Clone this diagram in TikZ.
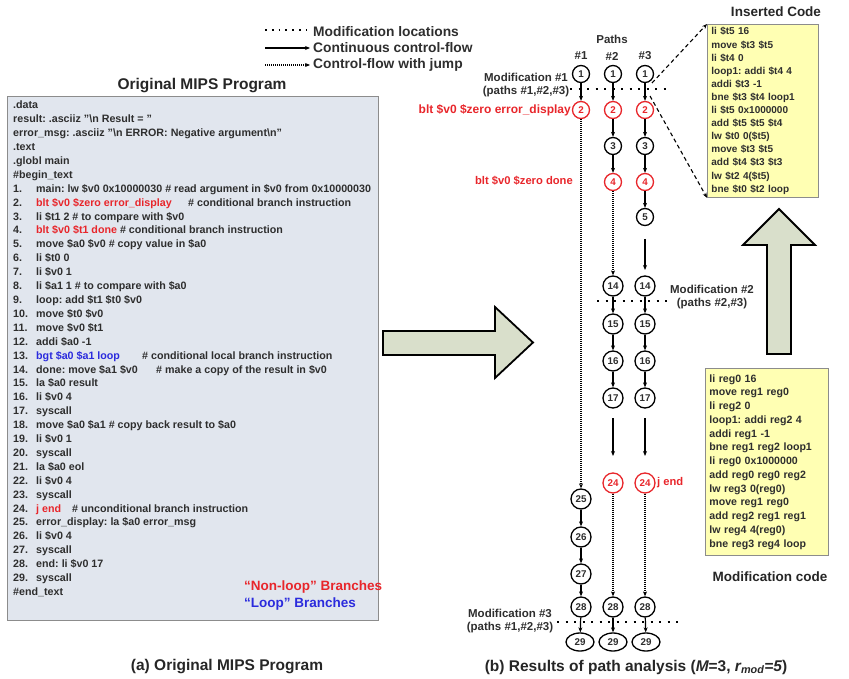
\documentclass[tikz,border=0pt]{standalone}
\usepackage{fontspec}
\setmainfont{Liberation Sans}
\usetikzlibrary{arrows.meta,shapes.geometric}
\frenchspacing
\definecolor{txt}{HTML}{2E2E2E}
\definecolor{myred}{HTML}{E8262B}
\definecolor{myblue}{HTML}{2B2BDD}
\definecolor{boxbg}{HTML}{E1E6EE}
\definecolor{boxln}{HTML}{8C8C8C}
\definecolor{yel}{HTML}{FFFFB3}
\definecolor{arrfill}{HTML}{D9DFCB}
\newcommand{\mipsline}[2]{%
  \node[prog] (n#1) at (13,{106+13.9*(#1+5)}) {#1.};
  \node[prog] (t#1) at (36,{106+13.9*(#1+5)}) {#2};}
\begin{document}
\begin{tikzpicture}[x=1pt,y=-1pt,
  prog/.style={anchor=west, font=\fontsize{10.7}{12}\selectfont\bfseries, text=txt, inner sep=0pt, text height=7.8pt, text depth=2pt},
  lbl/.style={font=\fontsize{11.5}{13.5}\selectfont\bfseries, text=txt, inner sep=0pt, align=center},
  redlbl/.style={font=\fontsize{11.2}{13}\selectfont\bfseries, text=myred, inner sep=0pt},
  legtxt/.style={anchor=west, font=\fontsize{13.8}{15}\selectfont\bfseries, text=txt, inner sep=0pt},
  nd/.style={circle, draw=black, line width=1.3pt, fill=white, minimum size=17pt, inner sep=0pt, font=\fontsize{9.8}{10}\selectfont\bfseries, text=txt},
  ndd/.style={nd, minimum size=20pt},
  ell/.style={nd, ellipse, minimum width=28pt, minimum height=18pt},
  rednd/.style={draw=myred, text=myred},
  flow/.style={-{Stealth[length=5pt,width=4pt]}, line width=1.2pt},
  jump/.style={-{Stealth[length=5pt,width=4pt]}, line width=1.1pt, dash pattern=on 1pt off 1pt},
  modline/.style={line width=2pt, dash pattern=on 2pt off 6.5pt},
  codebox/.style={draw=boxln, fill=yel, line width=0.8pt, align=left, inner xsep=4pt, inner ysep=0pt, text=txt},
  blockarrow/.style={draw=black, line width=1.8pt, fill=arrfill, line join=miter},
  bigtitle/.style={font=\fontsize{15.5}{18}\selectfont\bfseries, text=black!85}
]
\useasboundingbox (0,0) rectangle (849,679);

% ---------------- Legend ----------------
\coordinate (lg0s) at (265,30); \coordinate (lg0e) at (307,30);
\coordinate (lg1s) at (265,48); \coordinate (lg1e) at (310,48);
\coordinate (lg2s) at (265,65); \coordinate (lg2e) at (310,65);
\draw[line width=1.8pt, dash pattern=on 1.8pt off 5pt] (lg0s) -- (lg0e);
\draw[flow] (lg1s) -- (lg1e);
\draw[jump] (lg2s) -- (lg2e);
\node[legtxt] (lgt0) at (313,32) {Modification locations};
\node[legtxt] (lgt1) at (313,48) {Continuous control-flow};
\node[legtxt] (lgt2) at (313,65) {Control-flow with jump};

% ---------------- Left program box ----------------
\node[bigtitle] (progtitle) at (202,86) {Original MIPS Program};
\node[draw=boxln, fill=boxbg, line width=1pt, anchor=north west, minimum width=371pt, minimum height=524pt, inner sep=0pt] (progbox) at (7,96) {};

\node[prog] (h0) at (13,106) {.data};
\node[prog] (h1) at (13,119.9) {result: .asciiz "\textbackslash n Result = "};
\node[prog] (h2) at (13,133.8) {error\_msg: .asciiz "\textbackslash n ERROR: Negative argument\textbackslash n"};
\node[prog] (h3) at (13,147.7) {.text};
\node[prog] (h4) at (13,161.6) {.globl main};
\node[prog] (h5) at (13,175.5) {\#begin\_text};
\mipsline{1}{main: lw \$v0 0x10000030 \# read argument in \$v0 from 0x10000030}
\mipsline{2}{\textcolor{myred}{blt \$v0 \$zero error\_display}}
\node[prog] (cm2) at (188,203.3) {\# conditional branch instruction};
\mipsline{3}{li \$t1 2 \# to compare with \$v0}
\mipsline{4}{\textcolor{myred}{blt \$v0 \$t1 done} \# conditional branch instruction}
\mipsline{5}{move \$a0 \$v0 \# copy value in \$a0}
\mipsline{6}{li \$t0 0}
\mipsline{7}{li \$v0 1}
\mipsline{8}{li \$a1 1 \# to compare with \$a0}
\mipsline{9}{loop: add \$t1 \$t0 \$v0}
\mipsline{10}{move \$t0 \$v0}
\mipsline{11}{move \$v0 \$t1}
\mipsline{12}{addi \$a0 -1}
\mipsline{13}{\textcolor{myblue}{bgt \$a0 \$a1 loop}}
\node[prog] (cm13) at (142,356.2) {\# conditional local branch instruction};
\mipsline{14}{done: move \$a1 \$v0}
\node[prog] (cm14) at (156,370.1) {\# make a copy of the result in \$v0};
\mipsline{15}{la \$a0 result}
\mipsline{16}{li \$v0 4}
\mipsline{17}{syscall}
\mipsline{18}{move \$a0 \$a1 \# copy back result to \$a0}
\mipsline{19}{li \$v0 1}
\mipsline{20}{syscall}
\mipsline{21}{la \$a0 eol}
\mipsline{22}{li \$v0 4}
\mipsline{23}{syscall}
\mipsline{24}{\textcolor{myred}{j end}}
\node[prog] (cm24) at (72,509.1) {\# unconditional branch instruction};
\mipsline{25}{error\_display: la \$a0 error\_msg}
\mipsline{26}{li \$v0 4}
\mipsline{27}{syscall}
\mipsline{28}{end: li \$v0 17}
\mipsline{29}{syscall}
\node[prog] (h6) at (13,592.5) {\#end\_text};

\node[anchor=west, font=\fontsize{13.5}{15}\selectfont\bfseries, text=myred, inner sep=0pt] (nonloop) at (244,587) {“Non-loop” Branches};
\node[anchor=west, font=\fontsize{13.5}{15}\selectfont\bfseries, text=myblue, inner sep=0pt] (loopb) at (244,604) {“Loop” Branches};

\node[bigtitle] (capa) at (227,667) {(a) Original MIPS Program};

% ---------------- Block arrows ----------------
\draw[blockarrow] (383,331) -- (495,331) -- (495,307) -- (533,342.5) -- (495,378) -- (495,355) -- (383,355) -- cycle;
\draw[blockarrow] (767,354) -- (767,245) -- (743,245) -- (779,209) -- (815,245) -- (791,245) -- (791,354) -- cycle;

% ---------------- Paths ----------------
\node[lbl] (paths) at (612,39) {Paths};
\node[lbl] (h1p) at (581,56) {\#1};
\node[lbl] (h2p) at (612,56) {\#2};
\node[lbl] (h3p) at (645,56) {\#3};

% column 1
\node[nd] (a1) at (581,74) {1};
\node[nd,rednd] (a2) at (581,110) {2};
\node[ndd] (a25) at (581,499) {25};
\node[ndd] (a26) at (581,537) {26};
\node[ndd] (a27) at (581,574) {27};
\node[ndd] (a28) at (581,607) {28};
\node[ell] (a29) at (580,642) {29};
% column 2
\node[nd] (b1) at (613,74) {1};
\node[nd,rednd] (b2) at (613,110) {2};
\node[nd] (b3) at (613,146) {3};
\node[nd,rednd] (b4) at (613,182) {4};
\node[ndd] (b14) at (613,286) {14};
\node[ndd] (b15) at (613,324) {15};
\node[ndd] (b16) at (613,361) {16};
\node[ndd] (b17) at (613,398) {17};
\node[ndd,rednd] (b24) at (613,483) {24};
\node[ndd] (b28) at (613,607) {28};
\node[ell] (b29) at (613,642) {29};
% column 3
\node[nd] (c1) at (645,74) {1};
\node[nd,rednd] (c2) at (645,110) {2};
\node[nd] (c3) at (645,146) {3};
\node[nd,rednd] (c4) at (645,182) {4};
\node[nd] (c5) at (645,217) {5};
\node[ndd] (c14) at (645,286) {14};
\node[ndd] (c15) at (645,324) {15};
\node[ndd] (c16) at (645,361) {16};
\node[ndd] (c17) at (645,398) {17};
\node[ndd,rednd] (c24) at (645,483) {24};
\node[ndd] (c28) at (645,607) {28};
\node[ell] (c29) at (646,642) {29};

% connectors col 1
\draw[flow] (a1) -- (a2);
\draw[jump] (a2) -- (a25);
\draw[flow] (a25) -- (a26);
\draw[flow] (a26) -- (a27);
\draw[flow] (a27) -- (a28);
\draw[flow] (a28) -- (a29);
% connectors col 2
\draw[flow] (b1) -- (b2);
\draw[flow] (b2) -- (b3);
\draw[flow] (b3) -- (b4);
\draw[jump] (b4) -- (b14);
\draw[flow] (b14) -- (b15);
\draw[flow] (b15) -- (b16);
\draw[flow] (b16) -- (b17);
\coordinate (bs1) at (613,418); \coordinate (be1) at (613,456);
\draw[flow] (bs1) -- (be1);
\draw[jump] (b24) -- (b28);
\draw[flow] (b28) -- (b29);
% connectors col 3
\draw[flow] (c1) -- (c2);
\draw[flow] (c2) -- (c3);
\draw[flow] (c3) -- (c4);
\draw[flow] (c4) -- (c5);
\coordinate (cs0) at (645,239); \coordinate (ce0) at (645,270);
\draw[flow] (cs0) -- (ce0);
\draw[flow] (c14) -- (c15);
\draw[flow] (c15) -- (c16);
\draw[flow] (c16) -- (c17);
\coordinate (cs1) at (645,418); \coordinate (ce1) at (645,456);
\draw[flow] (cs1) -- (ce1);
\draw[jump] (c24) -- (c28);
\draw[flow] (c28) -- (c29);

% modification lines
\coordinate (m1s) at (570,89); \coordinate (m1e) at (668,89);
\draw[modline] (m1s) -- (m1e);
\coordinate (m2s) at (597,301); \coordinate (m2e) at (671,301);
\draw[modline] (m2s) -- (m2e);
\coordinate (m3s) at (557,622); \coordinate (m3e) at (678,622);
\draw[modline] (m3s) -- (m3e);

\node[lbl] (mod1) at (526,85) {Modification \#1\\(paths \#1,\#2,\#3)};
\node[lbl] (mod2) at (712,297) {Modification \#2\\(paths \#2,\#3)};
\node[lbl] (mod3) at (510,621) {Modification \#3\\(paths \#1,\#2,\#3)};

\node[redlbl, anchor=east, font=\fontsize{12}{13}\selectfont\bfseries] (r2) at (571,110) {blt \$v0 \$zero error\_display};
\node[redlbl, anchor=east] (r4) at (573,181) {blt \$v0 \$zero done};
\node[redlbl, anchor=west] (r24) at (657,483) {j end};

\node[bigtitle] (capb) at (636,667) {(b) Results of path analysis ({\itshape M}=3, {\itshape r\textsubscript{mod}=5})};

% ---------------- Inserted code ----------------
\node[font=\fontsize{13.5}{15}\selectfont\bfseries, text=black!85] (institle) at (776,12) {Inserted Code};
\node[codebox, anchor=north west, minimum width=111pt, minimum height=173pt, text width=103pt, font=\fontsize{10}{13.1}\selectfont\bfseries] (inscode) at (707,24) {li \$t5 16\\move \$t3 \$t5\\li \$t4 0\\loop1: addi \$t4 4\\addi \$t3 -1\\bne \$t3 \$t4 loop1\\li \$t5 0x1000000\\add \$t5 \$t5 \$t4\\lw \$t0 0(\$t5)\\move \$t3 \$t5\\add \$t4 \$t3 \$t3\\lw \$t2 4(\$t5)\\bne \$t0 \$t2 loop};

\coordinate (q1) at (652,83);
\coordinate (q2) at (650,96);
\draw[-{Stealth[length=5pt,width=4pt]}, line width=1.1pt, dash pattern=on 4pt off 3pt] (q1) -- (inscode.north west);
\draw[-{Stealth[length=5pt,width=4pt]}, line width=1.1pt, dash pattern=on 4pt off 3pt] (q2) -- (inscode.south west);

% ---------------- Modification code ----------------
\node[codebox, anchor=north west, minimum width=123pt, minimum height=187pt, text width=115pt, font=\fontsize{10.6}{13.75}\selectfont\bfseries] (modcode) at (705,368) {li reg0 16\\move reg1 reg0\\li reg2 0\\loop1: addi reg2 4\\addi reg1 -1\\bne reg1 reg2 loop1\\li reg0 0x1000000\\add reg0 reg0 reg2\\lw reg3 0(reg0)\\move reg1 reg0\\add reg2 reg1 reg1\\lw reg4 4(reg0)\\bne reg3 reg4 loop};
\node[font=\fontsize{13.5}{15}\selectfont\bfseries, text=black!85] (modtitle) at (770,577) {Modification code};

\end{tikzpicture}
\end{document}
